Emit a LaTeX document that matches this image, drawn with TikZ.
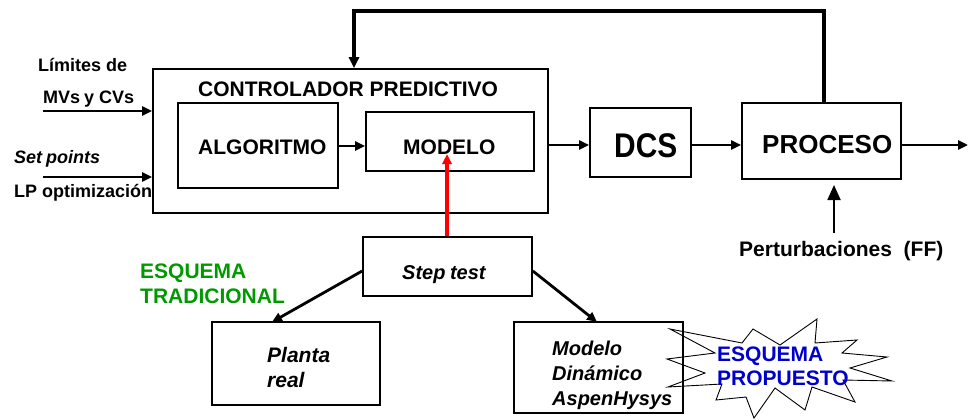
\documentclass[tikz,border=0pt]{standalone}
\usepackage{fontspec}
\setmainfont{Liberation Sans}
\usetikzlibrary{arrows.meta}
\definecolor{esqgreen}{RGB}{0,153,0}
\definecolor{esqblue}{RGB}{0,0,204}
\begin{document}
\begin{tikzpicture}[x=1pt,y=-1pt,
  box/.style={draw, line width=1.7pt, inner sep=0pt},
  conn/.style={line width=2.8pt, -{Triangle[length=10pt,width=9pt]}},
  lbl/.style={inner sep=0pt, anchor=base west, font=\fontsize{21}{25}\selectfont\bfseries},
  sml/.style={inner sep=0pt, anchor=base west, font=\fontsize{18}{22}\selectfont\bfseries},
  itl/.style={inner sep=0pt, anchor=base west, font=\fontsize{20}{25}\selectfont\bfseries\itshape}]
\useasboundingbox (0,0) rectangle (969,420);
% boxes
\node[box, minimum width=395pt, minimum height=144pt] (ctrl) at (350.5,141) {};
\node[box, minimum width=160pt, minimum height=85pt] (alg) at (258,145.5) {};
\node[box, minimum width=168pt, minimum height=59pt] (mod) at (450,141.5) {};
\node[box, minimum width=101pt, minimum height=69pt] (dcs) at (640.5,142.5) {};
\node[box, minimum width=159pt, minimum height=76pt] (proc) at (821.5,141) {};
\node[box, minimum width=169pt, minimum height=59pt] (step) at (447.5,266.5) {};
\node[box, minimum width=168pt, minimum height=83pt] (plant) at (296,363.5) {};
\node[box, minimum width=169pt, minimum height=91pt] (dyn) at (598.5,367.5) {};
% texts
\node[lbl] (tctrl) at (198,96) {CONTROLADOR PREDICTIVO};
\node[lbl] (talg) at (198,154) {ALGORITMO};
\node[lbl] (tmod) at (403,154) {MODELO};
\node[inner sep=0pt, anchor=base west, font=\fontsize{29}{32}\selectfont\bfseries] (tdcs) at (614,157) {\scalebox{1.03}[1.18]{DCS}};
\node[inner sep=0pt, anchor=base west, font=\fontsize{26}{30}\selectfont\bfseries] (tproc) at (762,153) {PROCESO};
\node[sml] (tlim) at (38,72) {Límites de};
\node[sml] (tmvs) at (43,103) {MVs\hspace{-1pt} y CVs};
\node[sml, font=\fontsize{18}{22}\selectfont\bfseries\itshape] (tsp) at (14,163) {Set\hspace{-1pt} points};
\node[sml] (tlp) at (14,197) {LP optimización};
\node[inner sep=0pt, anchor=base west, font=\fontsize{21}{24}\selectfont\bfseries] (tpert) at (739,256) {Perturbaciones\ \ (FF)};
\node[itl] (tstep) at (402,279) {Step\hspace{-1pt} test};
\node[itl, align=left, font=\fontsize{21}{25}\selectfont\bfseries\itshape] (tplant) at (267,387) {Planta\\real};
\node[itl, align=left, font=\fontsize{20}{25}\selectfont\bfseries\itshape] (tdyn) at (552,405) {Modelo\\Dinámico\\AspenHysys};
\node[lbl, text=esqgreen, align=left] (tgreen) at (140,303) {ESQUEMA\\TRADICIONAL};
% starburst
\draw[line width=0.9pt] (670,329) -- (715,353) -- (667,359) -- (705,373) -- (668,387)
  -- (722,384) -- (716,400) -- (746,397) -- (754,418) -- (775,388) -- (805,410)
  -- (812,387) -- (855,402) -- (843,380) -- (892,381) -- (850,368) -- (887,357)
  -- (842,353) -- (857,340) -- (815,343) -- (817,319) -- (780,345) -- (753,329)
  -- (742,343) -- cycle;
\node[lbl, text=esqblue, align=left, font=\fontsize{21}{24}\selectfont\bfseries] (tblue) at (717,385) {ESQUEMA\\PROPUESTO};
% input arrows
\coordinate (in1) at (43,111);
\coordinate (in2) at (43,177);
\draw[conn] (in1) -- (in1 -| ctrl.west);
\draw[conn] (in2) -- (in2 -| ctrl.west);
% main flow
\draw[conn] (alg.east |- 0,146) -- (mod.west |- 0,146);
\draw[conn] (ctrl.east |- 0,145) -- (dcs.west |- 0,145);
\draw[conn] (dcs.east |- 0,145) -- (proc.west |- 0,145);
\coordinate (out) at (968,145);
\draw[conn] (proc.east |- out) -- (out);
% feedback
\coordinate (fbr) at (824,11);
\coordinate (fbl) at (354,11);
\draw[line width=3.2pt, -{Triangle[length=11pt,width=10pt]}] (proc.north -| fbr) -- (fbr) -- (fbl) -- (ctrl.north -| fbl);
% perturbation
\coordinate (pb) at (834,233);
\coordinate (pt) at (834,185);
\draw[line width=1.8pt, -{Triangle[length=15pt,width=13pt]}] (pb) -- (pt);
% red arrow
\coordinate (rtip) at (447,154);
\draw[line width=3.2pt, red, -{Triangle[length=10pt,width=9pt]}] (step.north -| rtip) -- (rtip);
% step test branches
\coordinate (pltip) at (272,322);
\coordinate (dytip) at (597,322);
\draw[conn] (step.west |- 0,271) -- (pltip);
\draw[conn] (step.east |- 0,271) -- (dytip);
\end{tikzpicture}
\end{document}
